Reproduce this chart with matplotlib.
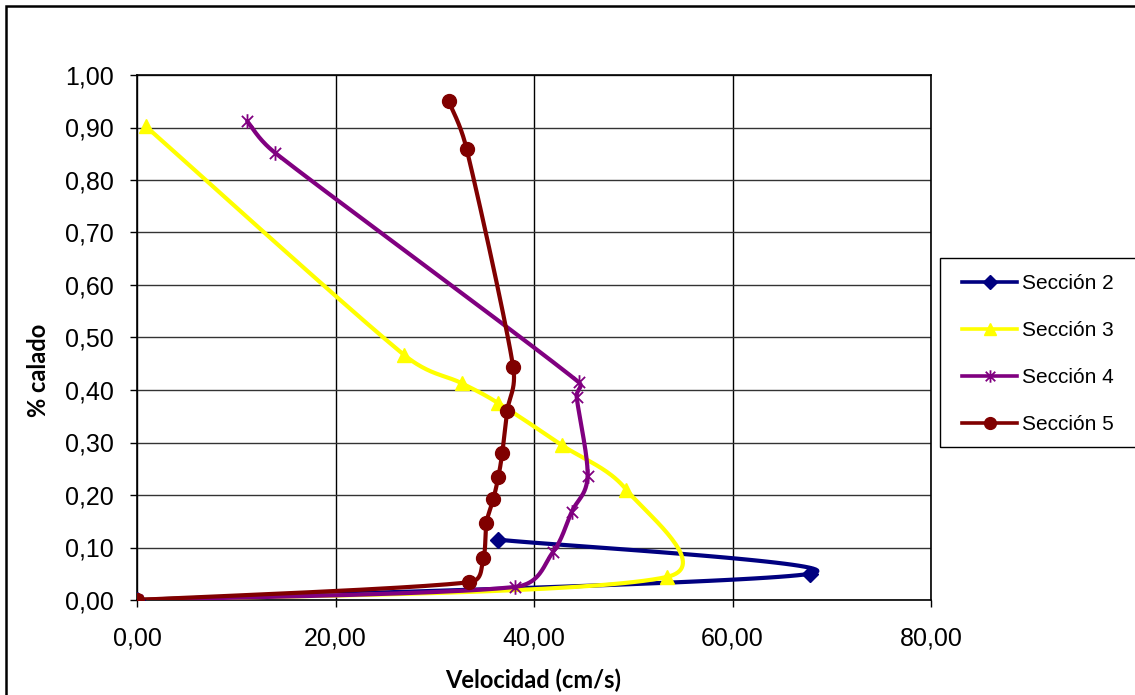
"""
Vertical velocity profiles (% calado vs velocidad) for four sections,
drawn the way the spreadsheet did: smoothed lines through the gauged points.
"""
import numpy as np
import matplotlib

matplotlib.use("Agg")
import matplotlib.pyplot as plt  # noqa: E402
from matplotlib.path import Path  # noqa: E402
from matplotlib.patches import Rectangle  # noqa: E402
from matplotlib.ticker import FuncFormatter, MultipleLocator  # noqa: E402

# --- data (velocity cm/s, fraction of depth) ---
sec2_v = [0.0, 67.8, 36.4]
sec2_h = [0.0, 0.050, 0.115]

sec3_v = [0.0, 53.4, 49.3, 42.8, 36.4, 32.7, 26.9, 0.9]
sec3_h = [0.0, 0.044, 0.210, 0.295, 0.375, 0.413, 0.467, 0.902]

sec4_v = [0.0, 38.1, 41.9, 43.8, 45.4, 44.3, 44.5, 13.9, 11.1]
sec4_h = [0.0, 0.025, 0.091, 0.168, 0.236, 0.387, 0.415, 0.852, 0.912]

sec5_v = [0.0, 33.5, 34.9, 35.2, 35.9, 36.4, 36.8, 37.3, 37.9, 33.2, 31.4]
sec5_h = [0.0, 0.034, 0.080, 0.146, 0.192, 0.234, 0.280, 0.360, 0.444, 0.860, 0.950]

labels = ["Sección 2", "Sección 3", "Sección 4", "Sección 5"]
colors = ["#000080", "#FFFF00", "#800080", "#800000"]

W, H = 1135, 695
AX_L, AX_R, AX_T, AX_B = 137, 931, 75, 600
XMAX, YMAX = 80.0, 1.0
SX = (AX_R - AX_L) / XMAX   # px per cm/s
SY = (AX_B - AX_T) / YMAX   # px per unit depth

# Excel-style asterisk marker: an x with a vertical stroke through it
STAR = Path(
    [(-1, -1), (1, 1), (-1, 1), (1, -1), (0, -1.3), (0, 1.3)],
    [Path.MOVETO, Path.LINETO, Path.MOVETO, Path.LINETO, Path.MOVETO, Path.LINETO],
)


def smooth(xs, ys, n=40):
    """
    Excel's 'smoothed line': Bezier segments with 1/6 tangents, shortened when a
    control arm would exceed half the segment. Worked out in screen pixels.
    """
    p = np.column_stack([np.asarray(xs) * SX, np.asarray(ys) * SY])
    p = np.vstack([p[0], p, p[-1]])
    t = np.linspace(0, 1, n)[:, None]
    out = []
    for i in range(1, len(p) - 2):
        p0, p1, p2, p3 = p[i - 1], p[i], p[i + 1], p[i + 2]
        d02 = np.hypot(*(p2 - p0))
        d12 = np.hypot(*(p2 - p1))
        d13 = np.hypot(*(p3 - p1))
        f1 = d12 / d02 / 2 if d02 / 6 >= d12 / 2 and d02 > 0 else 1 / 6
        f2 = d12 / d13 / 2 if d13 / 6 >= d12 / 2 and d13 > 0 else 1 / 6
        c1 = p1 + (p2 - p0) * f1
        c2 = p2 - (p3 - p1) * f2
        seg = ((1 - t) ** 3 * p1 + 3 * (1 - t) ** 2 * t * c1
               + 3 * (1 - t) * t ** 2 * c2 + t ** 3 * p2)
        out.append(seg if i == 1 else seg[1:])
    out = np.vstack(out)
    return out[:, 0] / SX, out[:, 1] / SY


plt.rcParams["font.family"] = ["Liberation Sans", "DejaVu Sans"]
fig = plt.figure(figsize=(W / 100, H / 100), dpi=100)
ax = fig.add_axes([AX_L / W, 1 - AX_B / H, (AX_R - AX_L) / W, (AX_B - AX_T) / H])

series = [
    (sec2_v, sec2_h, "D", 8.5, {}),
    (sec3_v, sec3_h, "^", 10, {}),
    (sec4_v, sec4_h, STAR, 10.5, {"markerfacecolor": "none", "markeredgewidth": 1.3}),
    (sec5_v, sec5_h, "o", 10, {}),
]
for (v, h, mk, ms, kw), lab, col in zip(series, labels, colors):
    sx, sy = smooth(v, h)
    ax.plot(sx, sy, color=col, lw=3, solid_capstyle="round", zorder=3)
    ax.plot(v, h, ls="none", marker=mk, ms=ms, color=col, zorder=4, **kw)
    # legend proxy
    ax.plot([], [], color=col, lw=2.6, marker=mk, ms=ms * 0.85, label=lab, **kw)

ax.set_xlim(0, XMAX)
ax.set_ylim(0, YMAX)
ax.xaxis.set_major_locator(MultipleLocator(20))
ax.yaxis.set_major_locator(MultipleLocator(0.1))
comma = FuncFormatter(lambda val, pos: f"{val:.2f}".replace(".", ","))
ax.xaxis.set_major_formatter(comma)
ax.yaxis.set_major_formatter(comma)
ax.tick_params(direction="out", length=5, width=1, labelsize=18)
ax.tick_params(axis="x", pad=14)
ax.tick_params(axis="y", pad=12)
ax.grid(True, axis="x", color="black", lw=1.0)
ax.grid(True, axis="y", color="#333333", lw=1.0)
ax.set_axisbelow(True)
for side in ax.spines.values():
    side.set_linewidth(1.2)

fig.text(533 / W, 1 - 680 / H, "Velocidad (cm/s)", ha="center", va="center",
         fontsize=17, fontweight="bold", family=["Lato", "DejaVu Sans"])
fig.text(38 / W, 1 - 370 / H, "% calado", ha="center", va="center",
         rotation=90, fontsize=17, fontweight="bold", family=["Lato", "DejaVu Sans"])

# legend entries without their own frame; the box is drawn separately
leg = ax.legend(loc="upper left", bbox_to_anchor=(962 / W, 1 - 274 / H),
                bbox_transform=fig.transFigure, fontsize=15, frameon=False,
                handlelength=2.65, handletextpad=0.25, labelspacing=1.35,
                borderpad=0, borderaxespad=0)
fig.patches.append(Rectangle((940 / W, 1 - 447 / H), 220 / W, 189 / H,
                             transform=fig.transFigure, fill=False,
                             edgecolor="black", lw=1.0))

# outer chart-area border
fig.patches.append(Rectangle((6 / W, -0.01), 1.0, 1 - 6 / H + 0.01,
                             transform=fig.transFigure, fill=False,
                             edgecolor="black", lw=1.8))

fig.savefig("out.png", dpi=100)
